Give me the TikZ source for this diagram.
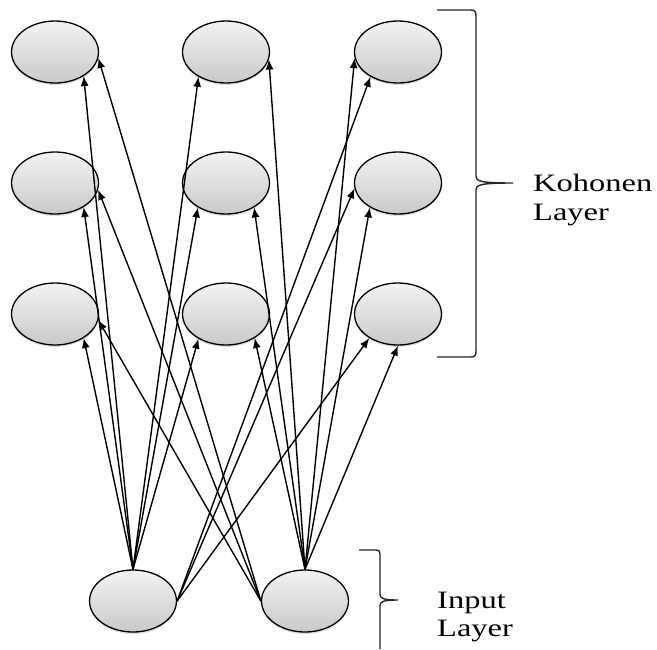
\documentclass[tikz,border=0pt]{standalone}
\usepackage{fontspec}
\setmainfont{Liberation Serif}
\newfontfamily\lblfont[FakeStretch=1.3]{Liberation Serif}
\usetikzlibrary{arrows.meta,shadows,shapes.geometric}
\begin{document}
\begin{tikzpicture}[x=1pt,y=-1pt,
  neuron/.style={ellipse, draw=black, line width=1.3pt, minimum width=87pt, minimum height=62pt, inner sep=0pt,
    top color=gray!10, bottom color=gray!42,
    drop shadow={opacity=0.25, shadow xshift=0pt, shadow yshift=-2pt}},
  conn/.style={line width=1.4pt, -{Latex[length=10pt,width=8pt]}},
  bracket/.style={line width=1.4pt, black!85},
  lbl/.style={anchor=west, align=left, inner sep=0pt, font=\lblfont\fontsize{25}{28.5}\selectfont}]
\useasboundingbox[fill=white] (0,0) rectangle (657,649);
% Kohonen layer
\node[neuron] (TL) at (55,52) {};
\node[neuron] (TM) at (226,52) {};
\node[neuron] (TR) at (398,52) {};
\node[neuron] (ML) at (55,183) {};
\node[neuron] (MM) at (226,183) {};
\node[neuron] (MR) at (398,183) {};
\node[neuron] (BL) at (55,314) {};
\node[neuron] (BM) at (226,314) {};
\node[neuron] (BR) at (398,314) {};
% input layer
\node[neuron] (I1) at (133,601) {};
\node[neuron] (I2) at (305,601) {};
% connections from input 1
\draw[conn] (I1.north) -- (TL.-40);
\draw[conn] (I1.north) -- (ML.-40);
\draw[conn] (I1.north) -- (BL.-40);
\draw[conn] (I1.north) -- (TM.-138);
\draw[conn] (I1.north) -- (MM.-139);
\draw[conn] (I1.north) -- (BM.-138);
\draw[conn] (I1.east) -- (TR.-138);
\draw[conn] (I1.east) -- (MR.-173);
\draw[conn] (I1.east) -- (BR.-140);
% connections from input 2
\draw[conn] (I2.west) -- (TL.-8);
\draw[conn] (I2.west) -- (ML.-9);
\draw[conn] (I2.west) -- (BL.-8);
\draw[conn] (I2.north) -- (TM.-10);
\draw[conn] (I2.north) -- (MM.-41);
\draw[conn] (I2.north) -- (BM.-40);
\draw[conn] (I2.north) -- (TR.-172);
\draw[conn] (I2.north) -- (MR.-139);
\draw[conn] (I2.north) -- (BR.-90);
% brackets
\draw[bracket] (437,10) -- (471,10) .. controls (475,10) and (476,12) .. (476,16)
  -- (476,176) .. controls (476,181) and (479,183) .. (513,183)
  .. controls (479,183) and (476,185) .. (476,190)
  -- (476,351) .. controls (476,355) and (475,357) .. (471,357) -- (437,357);
\draw[bracket] (359,550) -- (376,550) .. controls (379,550) and (380,551) .. (380,554)
  -- (380,594) .. controls (380,598) and (382,600) .. (398,600)
  .. controls (382,600) and (380,602) .. (380,606) -- (380,649);
% labels
\node[lbl] (kohonen) at (533,200) {Kohonen\\Layer};
\node[lbl] (input) at (437,617) {Input\\Layer};
\end{tikzpicture}
\end{document}
